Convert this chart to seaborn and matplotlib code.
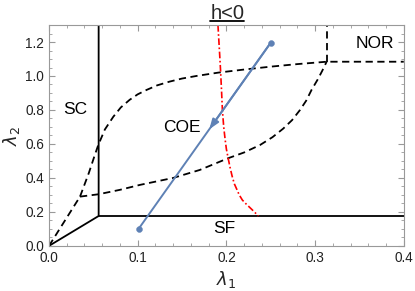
import numpy as np
import pandas as pd
import matplotlib.pyplot as plt
import seaborn as sns

# phase boundaries (lambda1, lambda2)
sc_x = [0.0, 0.056, 0.056]
sc_y = [0.0, 0.176, 1.30]
sf_x = [0.056, 0.40]
sf_y = [0.176, 0.176]

low_x = [0.0, 0.035]
low_y = [0.0, 0.29]
upper_x = [0.035, 0.045, 0.052, 0.0556, 0.063, 0.0725, 0.081, 0.091, 0.100, 0.110, 0.122, 0.136,
           0.150, 0.166, 0.191, 0.22, 0.25, 0.28, 0.313, 0.40]
upper_y = [0.29, 0.43, 0.54, 0.594, 0.685, 0.76, 0.815, 0.86, 0.892, 0.918, 0.945, 0.967,
           0.985, 1.0, 1.02, 1.038, 1.055, 1.07, 1.084, 1.084]
lower_x = [0.035, 0.056, 0.08, 0.1025, 0.14, 0.17, 0.202, 0.22, 0.238, 0.252, 0.264, 0.274,
           0.283, 0.290, 0.296, 0.303, 0.308, 0.313]
lower_y = [0.29, 0.304, 0.33, 0.359, 0.40, 0.447, 0.516, 0.55, 0.594, 0.64, 0.69, 0.74,
           0.80, 0.855, 0.918, 0.98, 1.03, 1.084]
nor_x = [0.313, 0.313]
nor_y = [1.084, 1.30]

red_x = [0.1905, 0.1925, 0.1934, 0.1945, 0.1955, 0.197, 0.1985, 0.200, 0.202, 0.204, 0.2065,
         0.209, 0.212, 0.2145, 0.218, 0.222, 0.226, 0.231, 0.236]
red_y = [1.30, 1.12, 1.035, 0.918, 0.80, 0.70, 0.63, 0.57, 0.516, 0.465, 0.41,
         0.365, 0.33, 0.30, 0.27, 0.248, 0.228, 0.203, 0.176]

path_x = [0.25, 0.101]
path_y = [1.196, 0.10]

region_names = ["SC", "COE", "NOR", "SF"]
region_x = [0.030, 0.150, 0.367, 0.198]
region_y = [0.80, 0.697, 1.19, 0.105]

sns.set_style("ticks")
plt.rcParams['font.family'] = ['Liberation Sans', 'DejaVu Sans']
plt.rcParams['mathtext.fontset'] = 'dejavusans'

fig, ax = plt.subplots(figsize=(4.15, 2.91), dpi=100)
fig.subplots_adjust(left=0.118, right=0.973, top=0.914, bottom=0.155)

def draw(xs, ys, **kw):
    d = pd.DataFrame({"x": xs, "y": ys})
    sns.lineplot(data=d, x="x", y="y", sort=False, estimator=None, ax=ax, **kw)

for xs, ys in [(sc_x, sc_y), (sf_x, sf_y)]:
    draw(xs, ys, color="black", lw=1.3)
for xs, ys in [(low_x, low_y), (upper_x, upper_y), (lower_x, lower_y), (nor_x, nor_y)]:
    draw(xs, ys, color="black", lw=1.3, linestyle=(0, (4, 2.5)))
draw(red_x, red_y, color="red", lw=1.2, linestyle=(0, (4, 1.5, 1, 1.5)))

blue = "#5E81B5"
draw(path_x, path_y, color=blue, lw=1.4)
sns.scatterplot(x=path_x, y=path_y, color=blue, s=18, edgecolor=blue, ax=ax, zorder=5)
t = 0.465
hx = path_x[0] + t * (path_x[1] - path_x[0])
hy = path_y[0] + t * (path_y[1] - path_y[0])
ax.annotate("", xy=(hx, hy), xytext=(path_x[0], path_y[0]),
            arrowprops=dict(arrowstyle="-|>,head_length=0.6,head_width=0.22",
                            color=blue, lw=1.4, shrinkA=0, shrinkB=0))

for name, x, y in zip(region_names, region_x, region_y):
    ax.text(x, y, name, fontsize=12.5, ha="center", va="center", color="black")

ax.set_xlim(0, 0.4)
ax.set_ylim(0, 1.3)
ax.set_xticks(np.arange(0, 0.41, 0.1))
ax.set_xticklabels(["0.0", "0.1", "0.2", "0.3", "0.4"])
ax.set_xticks(np.arange(0, 0.401, 0.02), minor=True)
ax.set_yticks(np.arange(0, 1.21, 0.2))
ax.set_yticklabels(["0.0", "0.2", "0.4", "0.6", "0.8", "1.0", "1.2"])
ax.set_yticks(np.arange(0, 1.301, 0.05), minor=True)
ax.tick_params(which="both", direction="in", top=True, right=True,
               color="#999999", labelsize=9.8, labelcolor="#222222")
ax.tick_params(which="major", length=4)
ax.tick_params(which="minor", length=2.2)
for s in ax.spines.values():
    s.set_color("#999999")
    s.set_linewidth(0.8)

ax.set_xlabel(r"$\lambda_1$", fontsize=13, labelpad=3)
ax.set_ylabel(r"$\lambda_2$", fontsize=13, labelpad=2)

# underlined title
title = fig.text(0.548, 0.955, "h<0", fontsize=14.5, ha="center", va="center")
fig.canvas.draw()
bb = title.get_window_extent().transformed(fig.transFigure.inverted())
fig.add_artist(plt.Line2D([bb.x0, bb.x1], [bb.y0 + 0.004, bb.y0 + 0.004],
                          color="black", lw=1.3, transform=fig.transFigure))

fig.savefig("out.png", dpi=100)
